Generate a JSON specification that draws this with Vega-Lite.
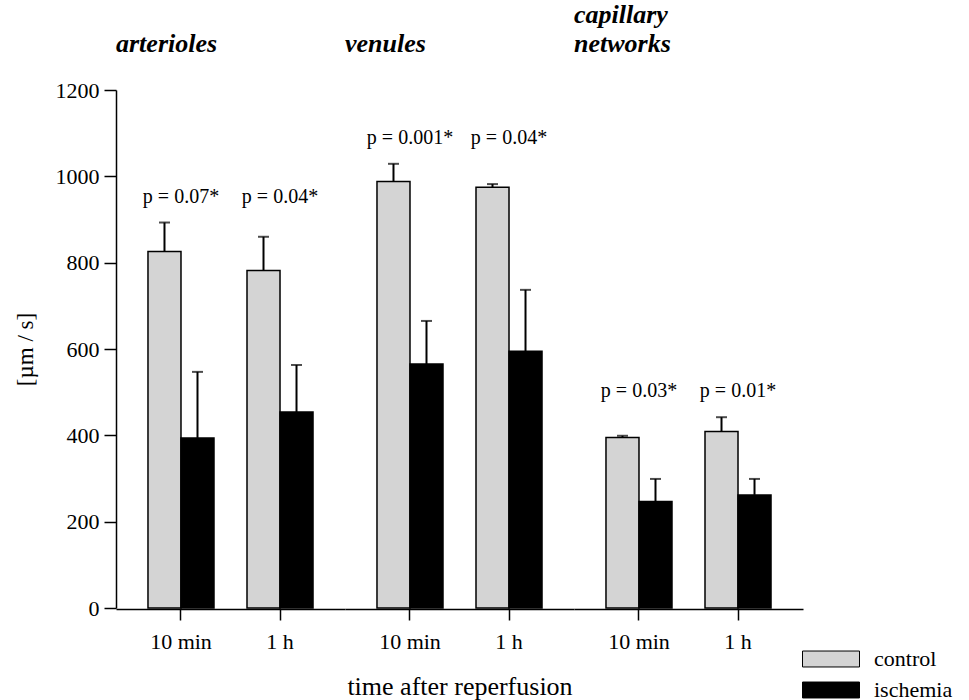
{
  "$schema": "https://vega.github.io/schema/vega-lite/v6.json",
  "background": "white",
  "padding": {"left": 14, "top": 2, "right": 5, "bottom": 5},
  "config": {
    "font": "Liberation Serif",
    "view": {"stroke": null},
    "axis": {"labelColor": "black", "titleColor": "black", "domainColor": "black", "tickColor": "black", "labelFont": "Liberation Serif", "titleFont": "Liberation Serif"}
  },
  "data": {
    "values": [
      {"group": "arterioles", "time": "10 min", "condition": "control", "mean": 826, "upper": 893, "p": "p = 0.07*"},
      {"group": "arterioles", "time": "10 min", "condition": "ischemia", "mean": 394, "upper": 547, "p": ""},
      {"group": "arterioles", "time": "1 h", "condition": "control", "mean": 782, "upper": 860, "p": "p = 0.04*"},
      {"group": "arterioles", "time": "1 h", "condition": "ischemia", "mean": 454, "upper": 563, "p": ""},
      {"group": "venules", "time": "10 min", "condition": "control", "mean": 988, "upper": 1029, "p": "p = 0.001*"},
      {"group": "venules", "time": "10 min", "condition": "ischemia", "mean": 565, "upper": 665, "p": ""},
      {"group": "venules", "time": "1 h", "condition": "control", "mean": 975, "upper": 982, "p": "p = 0.04*"},
      {"group": "venules", "time": "1 h", "condition": "ischemia", "mean": 595, "upper": 737, "p": ""},
      {"group": "capillary networks", "time": "10 min", "condition": "control", "mean": 395, "upper": 399, "p": "p = 0.03*"},
      {"group": "capillary networks", "time": "10 min", "condition": "ischemia", "mean": 247, "upper": 299, "p": ""},
      {"group": "capillary networks", "time": "1 h", "condition": "control", "mean": 409, "upper": 442, "p": "p = 0.01*"},
      {"group": "capillary networks", "time": "1 h", "condition": "ischemia", "mean": 262, "upper": 299, "p": ""}
    ]
  },
  "facet": {
    "column": {
      "field": "group",
      "type": "nominal",
      "sort": ["arterioles", "venules", "capillary networks"],
      "header": {
        "title": "time after reperfusion",
        "titleOrient": "bottom",
        "titleFont": "Liberation Serif",
        "titleFontSize": 26,
        "titleFontWeight": "normal",
        "titleColor": "black",
        "titlePadding": 12,
        "labelOrient": "top",
        "labelFont": "Liberation Serif",
        "labelFontSize": 26,
        "labelFontWeight": "bold",
        "labelFontStyle": "italic",
        "labelColor": "black",
        "labelExpr": "split(datum.value, ' ')",
        "labelAnchor": "start",
        "labelAlign": "left",
        "labelBaseline": "middle",
        "labelLineHeight": 29,
        "labelPadding": 20
      }
    }
  },
  "spacing": 0,
  "spec": {
    "width": 229,
    "height": 518,
    "encoding": {
      "x": {
        "field": "time",
        "type": "nominal",
        "sort": ["10 min", "1 h"],
        "scale": {"paddingInner": 0.3333, "paddingOuter": 0.323},
        "axis": {"title": null, "labelAngle": 0, "tickSize": 11, "labelFontSize": 22, "labelPadding": 11, "domainWidth": 1.5, "tickWidth": 1.5}
      }
    },
    "layer": [
      {
        "mark": {"type": "bar", "stroke": "black", "strokeWidth": 1.5},
        "encoding": {
          "xOffset": {"field": "condition", "type": "nominal", "sort": ["control", "ischemia"], "scale": {"paddingInner": 0, "paddingOuter": 0}},
          "y": {
            "field": "mean",
            "type": "quantitative",
            "scale": {"domain": [0, 1200], "nice": false},
            "axis": {"title": "[µm / s]", "format": "d", "values": [0, 200, 400, 600, 800, 1000, 1200], "grid": false, "tickSize": 12, "labelPadding": 5, "labelFontSize": 22, "titleFontSize": 23, "titleFontWeight": "normal", "titlePadding": 18, "domainWidth": 1.5, "tickWidth": 1.5}
          },
          "fill": {
            "field": "condition",
            "type": "nominal",
            "scale": {"domain": ["control", "ischemia"], "range": ["#d4d4d4", "black"]},
            "legend": {
              "title": null,
              "orient": "none",
              "legendX": 686,
              "legendY": 554,
              "symbolType": "M-1,-0.28H1V0.28H-1Z",
              "symbolSize": 3249,
              "symbolStrokeColor": "black",
              "symbolStrokeWidth": 1,
              "labelFont": "Liberation Serif",
              "labelFontSize": 22,
              "labelColor": "black",
              "labelOffset": 14,
              "clipHeight": 30,
              "rowPadding": 1
            }
          }
        }
      },
      {
        "mark": {"type": "rule", "color": "black", "strokeWidth": 2},
        "encoding": {
          "xOffset": {"field": "condition", "type": "nominal", "sort": ["control", "ischemia"]},
          "y": {"field": "mean", "type": "quantitative"},
          "y2": {"field": "upper"}
        }
      },
      {
        "mark": {"type": "tick", "color": "black", "thickness": 2, "size": 11},
        "encoding": {
          "xOffset": {"field": "condition", "type": "nominal", "sort": ["control", "ischemia"]},
          "y": {"field": "upper", "type": "quantitative"}
        }
      },
      {
        "transform": [
          {"filter": "datum.condition == 'control'"},
          {"joinaggregate": [{"op": "max", "field": "upper", "as": "gtop"}], "groupby": ["group"]}
        ],
        "mark": {"type": "text", "fontSize": 20, "dy": -26, "baseline": "middle", "color": "black", "font": "Liberation Serif"},
        "encoding": {
          "y": {"field": "gtop", "type": "quantitative"},
          "text": {"field": "p"}
        }
      }
    ]
  }
}
